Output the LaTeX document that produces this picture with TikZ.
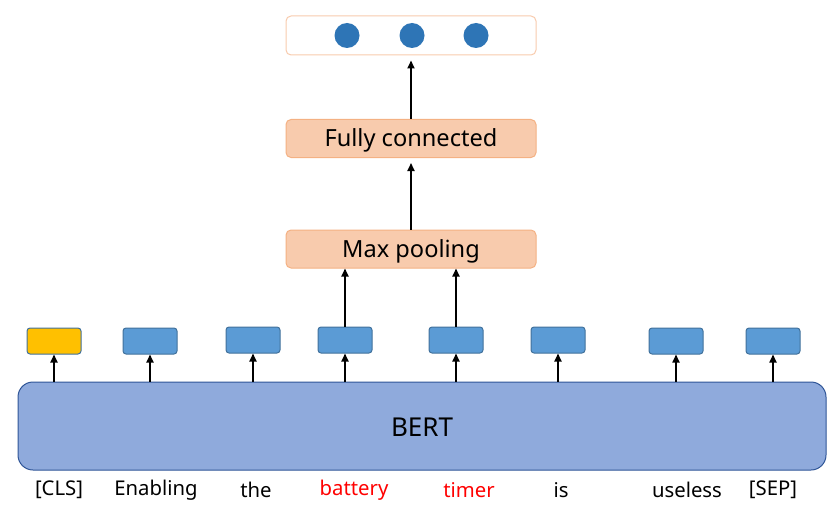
\documentclass[tikz,border=0pt]{standalone}
\usepackage{fontspec}
\setmainfont{Noto Sans}
\usetikzlibrary{arrows.meta}
\definecolor{tokfill}{HTML}{5B9BD5}
\definecolor{tokdraw}{HTML}{41719C}
\definecolor{clsfill}{HTML}{FFC000}
\definecolor{bertfill}{HTML}{8FAADC}
\definecolor{bertdraw}{HTML}{2F5597}
\definecolor{orfill}{HTML}{F8CBAD}
\definecolor{ordraw}{HTML}{F4B183}
\definecolor{dotblue}{HTML}{2E75B6}
\definecolor{redtxt}{HTML}{FF0000}
\tikzset{
  tok/.style={draw=tokdraw, fill=tokfill, line width=1pt, rounded corners=3pt, minimum width=54pt, minimum height=26pt, inner sep=0pt},
  orbox/.style={draw=ordraw, fill=orfill, line width=1pt, rounded corners=5pt, minimum width=250pt, minimum height=38pt, inner sep=0pt},
  ortxt/.style={inner sep=0pt, font=\fontsize{23.6}{26}\selectfont},
  lbl/.style={font=\fontsize{20.3}{24}\selectfont, inner sep=0pt},
  arr/.style={-{Triangle[length=8pt,width=7pt]}, line width=1.7pt, black},
  dot/.style={circle, fill=dotblue, minimum size=25pt, inner sep=0pt}
}
\begin{document}
\begin{tikzpicture}[x=1pt,y=-1pt]
\useasboundingbox (0,0) rectangle (837,516);
% BERT
\node[draw=bertdraw, fill=bertfill, line width=1pt, rounded corners=15pt, minimum width=808pt, minimum height=88pt, inner sep=0pt] (bert) at (422,426) {};
\node[inner sep=0pt, font=\fontsize{26}{30}\selectfont] (berttxt) at (422,427) {BERT};
% tokens
\node[tok, fill=clsfill] (t1) at (54,341) {};
\node[tok] (t2) at (150,341) {};
\node[tok] (t3) at (253,340) {};
\node[tok] (t4) at (345,340) {};
\node[tok] (t5) at (456,340) {};
\node[tok] (t6) at (558,340) {};
\node[tok] (t7) at (676,341) {};
\node[tok] (t8) at (773,341) {};
% arrows from BERT
\foreach \i in {1,...,8} {
  \draw[arr] (t\i.south |- bert.north) -- (t\i.south);
}
% labels
\node[lbl] (w1) at (59,490) {[CLS]};
\node[lbl] (w2) at (156,490) {Enabling};
\node[lbl] (w3) at (256,490) {the};
\node[lbl, text=redtxt] (w4) at (354,490) {battery};
\node[lbl, text=redtxt] (w5) at (469,490) {timer};
\node[lbl] (w6) at (561,490) {is};
\node[lbl] (w7) at (687,490) {useless};
\node[lbl] (w8) at (773,490) {[SEP]};
% upper part
\node[orbox] (mp) at (411,249) {};
\node[ortxt] (mptxt) at (411,251) {Max pooling};
\node[orbox] (fc) at (411,138.5) {};
\node[ortxt] (fctxt) at (411,140.5) {Fully connected};
\node[draw=orfill, fill=white, line width=1pt, rounded corners=5pt, minimum width=250pt, minimum height=39pt, inner sep=0pt] (out) at (411,35.5) {};
\node[dot] (d1) at (347,35.5) {};
\node[dot] (d2) at (412,35.5) {};
\node[dot] (d3) at (476,35.5) {};
\draw[arr] (t4.north) -- (t4.north |- mp.south);
\draw[arr] (t5.north) -- (t5.north |- mp.south);
\draw[arr] (mp.north) -- ([yshift=-5pt]fc.south);
\draw[arr] (fc.north) -- ([yshift=-5pt]out.south);
\end{tikzpicture}
\end{document}
